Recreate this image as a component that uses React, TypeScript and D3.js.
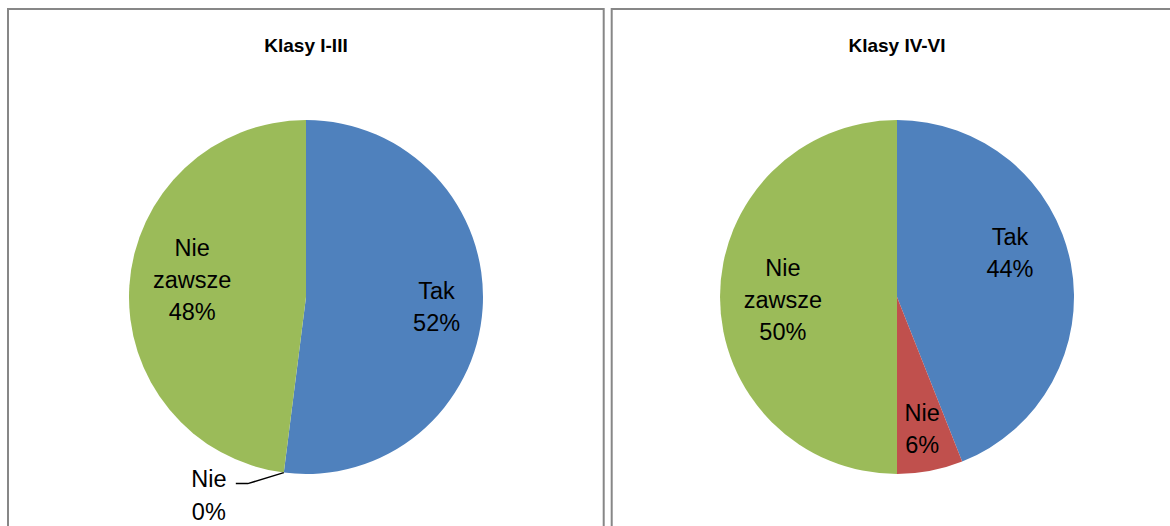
import React from 'react';
import * as d3 from 'd3';

const categories = ['Tak', 'Nie', 'Nie zawsze'];
const titles = ['Klasy I-III', 'Klasy IV-VI'];
const valuesI_III = [52, 0, 48];
const valuesIV_VI = [44, 6, 50];

const colors = ['#4F81BD', '#C0504D', '#9BBB59'];
const W = 1170;
const H = 526;
const FONT = '"Liberation Sans", Arial, sans-serif';

interface PanelLayout {
    x0: number;
    x1: number;
    cx: number;
    labelRadius: number[];   // fraction of r
    labelTurn: number[];     // degrees away from the slice middle
    leader?: boolean;
}

const layouts: PanelLayout[] = [
    { x0: 8, x1: 603.7, cx: 306, labelRadius: [0.74, 1.0, 0.65], labelTurn: [0.8, 0, 4.9], leader: true },
    { x0: 611.7, x1: 1200, cx: 897, labelRadius: [0.685, 0.76, 0.645], labelTurn: [-10.5, 0, -1.5] },
];

const cy = 297;
const r = 177;

// "Nie zawsze" wraps on two lines like in Excel
const wrapLabel = (name: string) => name === 'Nie zawsze' ? ['Nie', 'zawsze'] : [name];

function PiePanel({ values, title, layout }: { values: number[]; title: string; layout: PanelLayout }) {
    const pie = d3.pie<number>().sort(null).startAngle(0).endAngle(2 * Math.PI);
    const arcs = pie(values);
    const arc = d3.arc<d3.PieArcDatum<number>>().innerRadius(0).outerRadius(r);
    const total = d3.sum(values);
    const lineH = 32.5;

    return (
        <g>
            <rect x={layout.x0} y={9} width={layout.x1 - layout.x0} height={H + 20} fill="#fff" stroke="#878787" strokeWidth={2} />
            <text x={layout.cx} y={52} textAnchor="middle" fontFamily={FONT} fontWeight="bold" fontSize={19} fill="#000">{title}</text>
            <g transform={`translate(${layout.cx},${cy})`}>
                {arcs.map((a, i) => (
                    <path key={i} d={arc(a) || ''} fill={colors[i]} />
                ))}
                {arcs.map((a, i) => {
                    const mid = (a.startAngle + a.endAngle) / 2 + (layout.labelTurn[i] * Math.PI) / 180;
                    const lr = r * layout.labelRadius[i];
                    let lx = Math.sin(mid) * lr;
                    let ly = -Math.cos(mid) * lr;
                    const pct = Math.round((values[i] / total) * 100) + '%';
                    const lines = [...wrapLabel(categories[i]), pct];
                    let leaderPath: string | null = null;
                    if (layout.leader && values[i] === 0) {
                        const px = Math.sin(a.startAngle) * r;
                        const py = -Math.cos(a.startAngle) * r;
                        lx = px - 75;
                        ly = py + 23;
                        const sx = lx + 27;
                        const sy = py + 11;
                        leaderPath = `M${sx},${sy}H${sx + 12}L${px},${py}`;
                    }
                    const y0 = ly - ((lines.length - 1) * lineH) / 2 + 8;
                    return (
                        <g key={'l' + i}>
                            {leaderPath && <path d={leaderPath} fill="none" stroke="#000" strokeWidth={1.5} />}
                            <text textAnchor="middle" fontFamily={FONT} fontSize={23.5} fill="#000">
                                {lines.map((t, j) => (
                                    <tspan key={j} x={lx} y={y0 + j * lineH}>{t}</tspan>
                                ))}
                            </text>
                        </g>
                    );
                })}
            </g>
        </g>
    );
}

export default function App() {
    const data = [valuesI_III, valuesIV_VI];
    return (
        <svg width={W} height={H} viewBox={`0 0 ${W} ${H}`}
            style={{ position: 'fixed', left: 0, top: 0, background: '#fff' }}>
            <rect x={0} y={0} width={W} height={H} fill="#fff" />
            {data.map((values, i) => (
                <PiePanel key={i} values={values} title={titles[i]} layout={layouts[i]} />
            ))}
        </svg>
    );
}
